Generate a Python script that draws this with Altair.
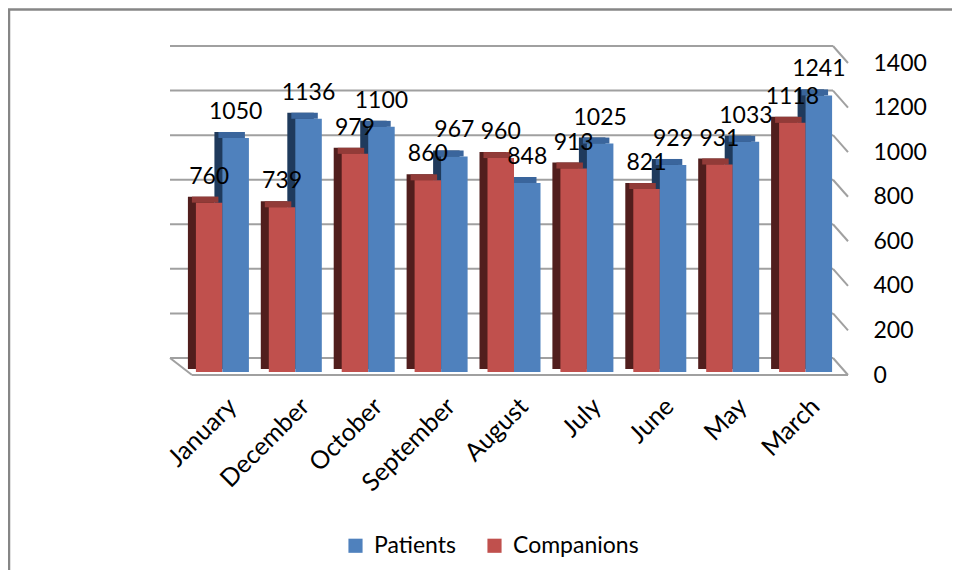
import altair as alt
import pandas as pd

months = ["January", "December", "October", "September", "August", "July", "June", "May", "March"]
patients = [1050, 1136, 1100, 967, 848, 1025, 929, 1033, 1241]
companions = [760, 739, 979, 860, 960, 913, 821, 931, 1118]
tick_values = [0, 200, 400, 600, 800, 1000, 1200, 1400]
series_order = ["Companions", "Patients"]
legend_order = ["Patients", "Companions"]

rows = []
for m, p, c in zip(months, patients, companions):
    rows.append({"month": m, "series": "Companions", "value": c})
    rows.append({"month": m, "series": "Patients", "value": p})
df = pd.DataFrame(rows)
ticks_df = pd.DataFrame({"value": tick_values})
one_df = pd.DataFrame({"value": [0]})

W, H = 656, 312
FONT = "Lato"
BLUE, RED = "#4F81BD", "#C0504D"
BLUE_SIDE, RED_SIDE = "#1F3A5C", "#511E1D"
BLUE_TOP, RED_TOP = "#3A659C", "#923B38"
GRID = "#A0A0A0"
GROUP = 53  # pixel width of a month's pair of bars

yscale = alt.Scale(domain=[0, 1400], nice=False)
xscale = alt.Scale(paddingInner=0.273, paddingOuter=0.136)


def xoff(shift):
    sc = alt.Scale(paddingInner=0, paddingOuter=0, range=[shift, GROUP + shift])
    return alt.XOffset("series:N", sort=series_order, scale=sc)


x_axis = alt.Axis(title=None, labelAngle=-45, labelAlign="right", labelBaseline="middle",
                  labelFontSize=25, labelFont=FONT, labelColor="#000000", labelPadding=30,
                  labelOffset=10, ticks=False, domain=False, labelOverlap=False, labelBound=False)
y_axis = alt.Axis(title=None, orient="right", values=tick_values, format="d", labelPadding=31,
                  labelFontSize=23, labelFont=FONT, labelColor="#000000", labelAlign="left",
                  labelBaseline="middle", labelOffset=3, grid=False, ticks=False, domain=False)
Y = alt.Y("value:Q", scale=yscale, axis=y_axis)

frame = alt.Chart(one_df).mark_rect(filled=False, stroke="#868686", strokeWidth=2.5).encode(
    x=alt.value(-177), x2=alt.value(W + 300), y=alt.value(-50.5), y2=alt.value(H + 400)
)

grid = alt.Chart(ticks_df).mark_rule(color=GRID, strokeWidth=2, yOffset=-14).encode(
    y=Y, x=alt.value(-16), x2=alt.value(647)
)
diag = alt.Chart(ticks_df).mark_rule(color=GRID, strokeWidth=2, yOffset=-14, y2Offset=3).encode(
    y=Y, y2=alt.Y2("value:Q"), x=alt.value(647), x2=alt.value(662)
)
floor_front = alt.Chart(one_df).mark_rule(color=GRID, strokeWidth=2, yOffset=3).encode(
    y=Y, x=alt.value(6), x2=alt.value(662)
)
floor_left = alt.Chart(one_df).mark_rule(color=GRID, strokeWidth=2, yOffset=-14, y2Offset=3).encode(
    y=Y, y2=alt.Y2("value:Q"), x=alt.value(-16), x2=alt.value(6)
)

base = alt.Chart(df)
xenc = alt.X("month:N", sort=months, scale=xscale, axis=x_axis)

side = base.mark_bar(yOffset=-6, y2Offset=-3).encode(
    x=xenc, xOffset=xoff(-8),
    y=Y, y2=alt.datum(0),
    color=alt.condition(alt.datum.series == "Patients", alt.value(BLUE_SIDE), alt.value(RED_SIDE)),
)
cap = base.mark_bar(yOffset=-6).encode(
    x=xenc, xOffset=xoff(-4),
    y=Y, y2=alt.Y2("value:Q"),
    color=alt.condition(alt.datum.series == "Patients", alt.value(BLUE_TOP), alt.value(RED_TOP)),
)
front = base.mark_bar().encode(
    x=xenc, xOffset=xoff(0),
    y=Y, y2=alt.datum(0),
    color=alt.Color("series:N", scale=alt.Scale(domain=legend_order, range=[BLUE, RED]),
                    legend=alt.Legend(title=None, orient="none", legendX=158, legendY=474,
                                      direction="horizontal", symbolType="square", symbolSize=200,
                                      symbolStrokeWidth=0, labelFontSize=23, labelFont=FONT,
                                      labelColor="#000000", columnPadding=27, labelOffset=7,
                                      padding=0)),
)
label_off = alt.XOffset("series:N", sort=series_order,
                        scale=alt.Scale(type="point", padding=0, range=[GROUP / 4, 3 * GROUP / 4]))
labels = base.mark_text(dy=-19, fontSize=23, font=FONT, baseline="alphabetic", align="center",
                        color="#000000").encode(
    x=xenc, xOffset=label_off,
    y=Y,
    text=alt.Text("value:Q"),
)

chart = alt.layer(frame, grid, diag, floor_front, floor_left, side, cap, front, labels).resolve_scale(
    xOffset="independent"
).properties(
    width=W, height=H,
    padding={"left": 178, "top": 52, "right": 110, "bottom": 198},
    autosize=alt.AutoSizeParams(type="none"),
    background="white",
).configure_view(stroke=None)

chart.save("out.html", embed_options={"renderer": "svg", "actions": False})
